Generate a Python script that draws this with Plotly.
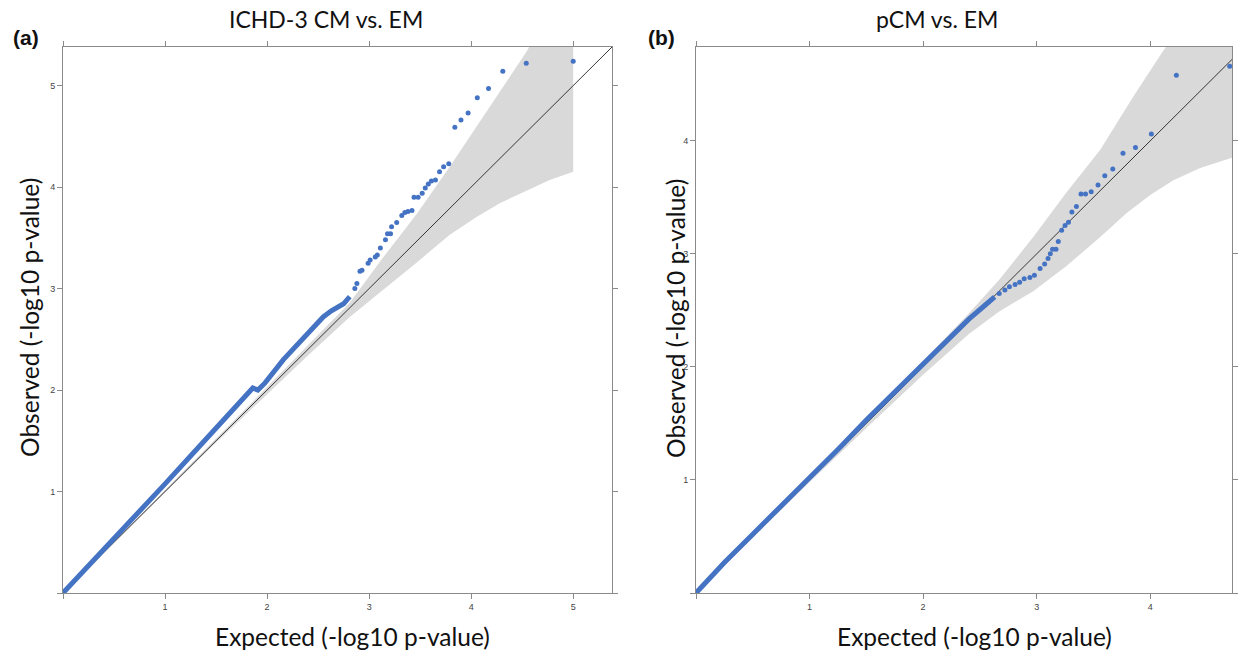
import plotly.graph_objects as go

# ---------------- Panel (a): ICHD-3 CM vs. EM ----------------
a_dense_exp = [0, 0.25, 0.5, 0.75, 1.0, 1.25, 1.5, 1.75, 1.86, 1.91, 1.98, 2.16, 2.42, 2.55, 2.63, 2.75, 2.81]
a_dense_obs = [0, 0.265, 0.535, 0.805, 1.075, 1.35, 1.63, 1.91, 2.02, 2.00, 2.07, 2.30, 2.58, 2.72, 2.78, 2.85, 2.92]
a_tail_exp = [2.86, 2.88, 2.91, 2.93, 2.99, 3.01, 3.06, 3.08, 3.11, 3.16, 3.18, 3.21, 3.22, 3.27, 3.32, 3.35,
              3.38, 3.42, 3.44, 3.48, 3.52, 3.55, 3.58, 3.61, 3.65, 3.69, 3.73, 3.78, 3.84, 3.90, 3.97, 4.06,
              4.17, 4.31, 4.54, 5.00]
a_tail_obs = [3.00, 3.05, 3.17, 3.18, 3.25, 3.28, 3.31, 3.33, 3.40, 3.48, 3.54, 3.54, 3.61, 3.65, 3.72, 3.75,
              3.76, 3.77, 3.90, 3.90, 3.94, 3.99, 4.03, 4.06, 4.07, 4.15, 4.20, 4.23, 4.59, 4.66, 4.73, 4.88,
              4.97, 5.14, 5.22, 5.24]
a_up_exp = [0, 1, 1.5, 2, 2.4, 2.81, 3.14, 3.47, 3.79, 3.99, 4.25, 4.54, 4.75, 5.0]
a_up_obs = [0, 1.01, 1.52, 2.03, 2.44, 2.86, 3.31, 3.74, 4.20, 4.50, 4.89, 5.33, 5.7, 6.0]
a_lo_exp = [0, 1, 1.5, 2, 2.4, 2.81, 3.14, 3.47, 3.79, 4.06, 4.28, 4.51, 4.77, 5.0]
a_lo_obs = [0, 0.99, 1.48, 1.96, 2.34, 2.72, 2.99, 3.26, 3.53, 3.71, 3.84, 3.95, 4.07, 4.15]
a_diag = [0, 5.38]
a_ticks = [0, 1, 2, 3, 4, 5]
a_ticktext = ["", "1", "2", "3", "4", "5"]

# ---------------- Panel (b): pCM vs. EM ----------------
b_dense_exp = [0, 0.25, 0.5, 0.75, 1.0, 1.25, 1.5, 1.75, 2.0, 2.2, 2.4, 2.55, 2.63]
b_dense_obs = [0, 0.27, 0.52, 0.77, 1.01, 1.27, 1.53, 1.78, 2.03, 2.22, 2.42, 2.55, 2.62]
b_tail_exp = [2.67, 2.72, 2.76, 2.81, 2.85, 2.89, 2.94, 2.98, 3.03, 3.07, 3.10, 3.12, 3.14, 3.17, 3.19,
              3.22, 3.25, 3.28, 3.31, 3.35, 3.39, 3.43, 3.48, 3.54, 3.60, 3.67, 3.76, 3.87, 4.01, 4.23, 4.70]
b_tail_obs = [2.65, 2.68, 2.71, 2.73, 2.75, 2.78, 2.79, 2.81, 2.87, 2.91, 2.96, 3.00, 3.04, 3.04, 3.11,
              3.21, 3.25, 3.28, 3.37, 3.42, 3.53, 3.53, 3.55, 3.61, 3.69, 3.75, 3.89, 3.94, 4.06, 4.58, 4.66]
b_up_exp = [0, 1, 1.5, 2, 2.4, 2.67, 2.97, 3.26, 3.56, 3.85, 4.11, 4.4, 4.72]
b_up_obs = [0, 1.02, 1.53, 2.05, 2.47, 2.77, 3.15, 3.54, 3.92, 4.39, 4.79, 5.2, 5.6]
b_lo_exp = [0, 1, 1.5, 2, 2.4, 2.67, 2.82, 2.97, 3.26, 3.56, 3.79, 4.0, 4.2, 4.44, 4.72]
b_lo_obs = [0, 0.98, 1.46, 1.93, 2.29, 2.49, 2.58, 2.67, 2.89, 3.15, 3.36, 3.52, 3.65, 3.76, 3.85]
b_diag = [0, 4.83]
b_xticks = [0, 1, 2, 3, 4]
b_xticktext = ["", "1", "2", "3", "4"]
b_yticks = [0, 1, 2, 3, 4]
b_yticktext = ["", "1", "2", "3", "4"]

titles = ["ICHD-3 CM vs. EM", "pCM vs. EM"]
panel_labels = ["(a)", "(b)"]
x_title = "Expected (-log10 p-value)"
y_title = "Observed (-log10 p-value)"

BLUE = "#4573c4"
BAND = "#d9d9d9"
W, H = 1241, 650

fig = go.Figure()


def add_panel(xa, ya, up_x, up_y, lo_x, lo_y, diag, dx, dy, tx, ty):
    fig.add_trace(go.Scatter(x=up_x + lo_x[::-1], y=up_y + lo_y[::-1], fill="toself",
                             fillcolor=BAND, line=dict(width=0), mode="lines",
                             xaxis=xa, yaxis=ya, hoverinfo="skip", showlegend=False))
    fig.add_trace(go.Scatter(x=diag, y=diag, mode="lines", line=dict(color="#222222", width=0.9),
                             xaxis=xa, yaxis=ya, showlegend=False))
    fig.add_trace(go.Scatter(x=dx, y=dy, mode="lines", line=dict(color=BLUE, width=5),
                             xaxis=xa, yaxis=ya, showlegend=False))
    fig.add_trace(go.Scatter(x=tx, y=ty, mode="markers", marker=dict(color=BLUE, size=5),
                             xaxis=xa, yaxis=ya, showlegend=False))


add_panel("x", "y", a_up_exp, a_up_obs, a_lo_exp, a_lo_obs, a_diag,
          a_dense_exp, a_dense_obs, a_tail_exp, a_tail_obs)
add_panel("x2", "y2", b_up_exp, b_up_obs, b_lo_exp, b_lo_obs, b_diag,
          b_dense_exp, b_dense_obs, b_tail_exp, b_tail_obs)

ax_common = dict(showline=True, linecolor="#8a8a8a", linewidth=1, mirror="ticks",
                 ticks="outside", ticklen=5, tickcolor="#8a8a8a", showgrid=False, zeroline=False,
                 tickfont=dict(family="Liberation Sans", size=9, color="#444444"))

yd = [57 / H, 603 / H]
fig.update_layout(
    width=W, height=H, margin=dict(l=0, r=0, t=0, b=0),
    plot_bgcolor="white", paper_bgcolor="white", showlegend=False,
    xaxis=dict(domain=[63 / W, 612 / W], range=[0, 5.38], anchor="y",
               tickvals=a_ticks, ticktext=a_ticktext, **ax_common),
    yaxis=dict(domain=yd, range=[0, 5.38], anchor="x",
               tickvals=a_ticks, ticktext=a_ticktext, **ax_common),
    xaxis2=dict(domain=[696 / W, 1232 / W], range=[0, 4.72], anchor="y2",
                tickvals=b_xticks, ticktext=b_xticktext, **ax_common),
    yaxis2=dict(domain=yd, range=[0, 4.83], anchor="x2",
                tickvals=b_yticks, ticktext=b_yticktext, **ax_common),
)

FONT = "Lato"
ann = []
title_cx = [326, 937]
xtitle_cx = [352, 974]
for i in range(2):
    ann.append(dict(text=titles[i], x=title_cx[i] / W, y=1 - 19 / H, xref="paper", yref="paper",
                    showarrow=False, xanchor="center", yanchor="middle",
                    font=dict(family=FONT, size=23, color="#111111")))
    ann.append(dict(text=x_title, x=xtitle_cx[i] / W, y=1 - 636 / H, xref="paper", yref="paper",
                    showarrow=False, xanchor="center", yanchor="middle",
                    font=dict(family=FONT, size=24.5, color="#111111")))
for i, (lx, yx) in enumerate([(26, 29), (661, 675)]):
    ann.append(dict(text="<b>" + panel_labels[i] + "</b>", x=lx / W, y=1 - 37 / H, xref="paper",
                    yref="paper", showarrow=False, xanchor="center", yanchor="middle",
                    font=dict(family="Liberation Sans", size=21, color="#111111")))
    ann.append(dict(text=y_title, x=yx / W, y=1 - 318 / H, xref="paper", yref="paper",
                    showarrow=False, xanchor="center", yanchor="middle", textangle=-90,
                    font=dict(family=FONT, size=24.5, color="#111111")))
fig.update_layout(annotations=ann)

fig.write_html("out.html", config={"displayModeBar": False},
               post_script="document.body.style.margin='0px';document.body.style.overflow='hidden';")
